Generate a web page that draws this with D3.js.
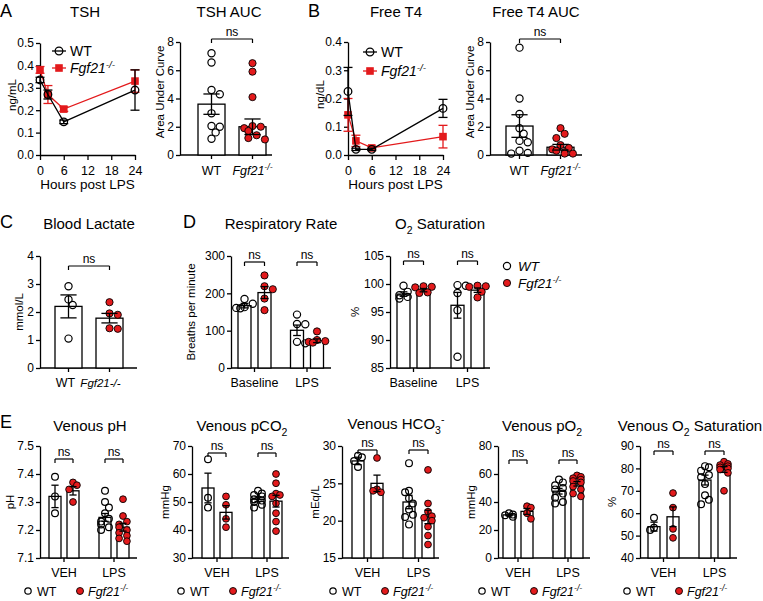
<!DOCTYPE html>
<html>
<head>
<meta charset="utf-8">
<script src="https://cdn.jsdelivr.net/npm/d3@7/dist/d3.min.js"></script>
<style>
html,body{margin:0;padding:0;background:#fff;}
svg{display:block;}
</style>
</head>
<body>
<svg id="fig" width="763" height="601" xmlns="http://www.w3.org/2000/svg"></svg>
<script>
// ================= DATA =================
const hours = [0, 2, 6, 24];
const hourTicks = [0, 6, 12, 18, 24];
const genotypes = ["WT", "Fgf21-/-"];

// A: TSH time course (ng/mL), mean and SEM
const tshWT = [0.335, 0.27, 0.148, 0.29];
const tshWTsem = [0.012, 0.02, 0.008, 0.09];
const tshKO = [0.38, 0.27, 0.205, 0.33];
const tshKOsem = [0.015, 0.04, 0.01, 0.05];
const tshTicks = [0, 0.1, 0.2, 0.3, 0.4, 0.5];

// A: TSH AUC
const aucTicks = [0, 2, 4, 6, 8];
const tshAucWT = [[7.2, 6.55, 4.6, 4.3, 2.95, 2.05, 2.0, 1.6, 1.15]];
const tshAucKO = [[6.5, 5.9, 4.1, 2.05, 2.0, 1.9, 1.7, 1.4, 1.2, 1.1]];
const tshAucMean = [3.6, 2.0];
const tshAucSem = [0.72, 0.55];

// B: Free T4 time course (ng/dL)
const t4WT = [0.225, 0.02, 0.02, 0.165];
const t4WTsem = [0.085, 0.004, 0.004, 0.032];
const t4KO = [0.142, 0.05, 0.025, 0.065];
const t4KOsem = [0.058, 0.02, 0.006, 0.04];
const t4Ticks = [0, 0.1, 0.2, 0.3, 0.4];

// B: Free T4 AUC
const t4AucWT = [[7.6, 4.0, 2.9, 1.9, 1.5, 1.0, 0.9, 0.3, 0.15, 0.1]];
const t4AucKO = [[1.9, 1.5, 1.2, 0.7, 0.5, 0.4, 0.3, 0.2, 0.1, 0.1]];
const t4AucMean = [2.05, 0.55];
const t4AucSem = [0.8, 0.2];

// C: Blood lactate (mmol/L)
const lacTicks = [0, 1, 2, 3, 4];
const lacWT = [[2.92, 2.45, 2.25, 1.05]];
const lacKO = [[2.35, 1.95, 1.9, 1.42, 1.4]];
const lacMean = [2.2, 1.78];
const lacSem = [0.41, 0.17];

// D: conditions
const dConds = ["Baseline", "LPS"];
// Respiratory rate (breaths per minute)
const respTicks = [0, 100, 200, 300];
const respWT = [[185, 172, 163, 161, 160], [143, 118, 117, 70, 66]];
const respKO = [[248, 219, 211, 186, 155], [98, 75, 72, 70, 68]];
const respMeanWT = [167, 101];
const respSemWT = [6, 14];
const respMeanKO = [202, 73];
const respSemKO = [16, 5];
// O2 saturation (%)
const o2Ticks = [85, 90, 95, 100, 105];
const o2WT = [[99.7, 98.6, 98.0, 97.7, 97.4], [99.8, 99.7, 98.4, 95.3, 87.0]];
const o2KO = [[99.6, 99.5, 99.4, 98.5, 98.4], [99.7, 99.6, 99.5, 98.6, 97.6]];
const o2MeanWT = [98.2, 96.2];
const o2SemWT = [0.4, 2.3];
const o2MeanKO = [98.9, 98.9];
const o2SemKO = [0.3, 0.4];

// E: conditions
const eConds = ["VEH", "LPS"];
// Venous pH
const phTicks = [7.1, 7.2, 7.3, 7.4, 7.5];
const phWT = [[7.39, 7.32, 7.26], [7.34, 7.30, 7.28, 7.26, 7.24, 7.23, 7.22, 7.21, 7.20]];
const phKO = [[7.37, 7.36, 7.345, 7.30], [7.31, 7.25, 7.23, 7.22, 7.21, 7.20, 7.19, 7.18, 7.17, 7.16]];
const phMeanWT = [7.32, 7.245];
const phSemWT = [0.04, 0.014];
const phMeanKO = [7.34, 7.21];
const phSemKO = [0.015, 0.014];
// Venous pCO2 (mmHg)
const pco2Ticks = [30, 40, 50, 60, 70];
const pco2WT = [[65.3, 51.5, 48], [54, 53, 52.5, 52, 51, 50.5, 50, 49, 48]];
const pco2KO = [[52, 49, 44, 41], [60, 56.7, 53, 52.5, 52, 49.5, 46, 43, 39.6]];
const pco2MeanWT = [55, 51];
const pco2SemWT = [5.3, 0.8];
const pco2MeanKO = [46.3, 50.3];
const pco2SemKO = [2.4, 2.1];
// Venous HCO3- (mEq/L)
const hco3Ticks = [15, 20, 25, 30];
const hco3WT = [[28.7, 28.5, 28.0, 27.2], [27.7, 24.0, 23.8, 23.0, 22.3, 21.5, 20.8, 20.5, 19.5]];
const hco3KO = [[28.4, 24.2, 24.0, 23.8], [26.8, 22.3, 21.2, 20.6, 20.4, 20.0, 19.2, 18.0, 16.8]];
const hco3MeanWT = [28.0, 22.5];
const hco3SemWT = [0.5, 0.9];
const hco3MeanKO = [25.0, 20.5];
const hco3SemKO = [1.1, 0.9];
// Venous pO2 (mmHg)
const po2Ticks = [0, 20, 40, 60, 80];
const po2WT = [[32, 31, 30.5, 29.5], [56, 54, 52, 50, 49, 46, 43, 40, 39]];
const po2KO = [[37, 36, 32, 28], [59, 58, 57, 56, 55, 54, 51, 49, 46, 44]];
const po2MeanWT = [30.8, 47.7];
const po2SemWT = [0.6, 2.0];
const po2MeanKO = [33.3, 53];
const po2SemKO = [2.1, 1.6];
// Venous O2 saturation (%)
const so2Ticks = [40, 50, 60, 70, 80, 90];
const so2WT = [[58, 53.5, 52.5], [81, 80.5, 79, 77, 76, 73, 68, 66, 64]];
const so2KO = [[69, 62.5, 53, 49], [83, 82, 81.5, 81, 80.5, 80, 79.5, 78, 70]];
const so2MeanWT = [54, 74.8];
const so2SemWT = [2.0, 2.2];
const so2MeanKO = [58.4, 79.5];
const so2SemKO = [4.4, 1.3];

// ================= DRAWING =================
const RED = "#e31a1c";
const FONT = "'Liberation Sans', Arial, Helvetica, sans-serif";
const SW = 1.3;
const TICK_FS = 12;
const TITLE_FS = 15;
const YLAB_FS = 11.5;
const svg = d3.select("#fig");

const KO_SUP = [{t: "Fgf21", i: true}, {t: "-/-", s: "sup", i: true}];

function rich(parent, x, y, parts, opt = {}) {
  const size = opt.size || 12;
  const t = parent.append("text")
    .attr("font-family", FONT).attr("font-size", size).attr("fill", "#000")
    .attr("text-anchor", opt.anchor || "middle");
  if (opt.rotate) t.attr("transform", `translate(${x},${y}) rotate(${opt.rotate})`);
  else t.attr("x", x).attr("y", y);
  let shift = 0;
  parts.forEach(p => {
    const target = p.s === "sub" ? size * 0.3 : p.s === "sup" ? -size * 0.38 : 0;
    const ts = t.append("tspan").text(p.t);
    if (target - shift !== 0) ts.attr("dy", target - shift);
    shift = target;
    if (p.s) ts.attr("font-size", size * 0.7);
    if (p.i) ts.attr("font-style", "italic");
  });
  return t;
}

function styleAxis(g, fs) {
  g.select(".domain").attr("stroke", "#000").attr("stroke-width", SW);
  g.selectAll(".tick line").attr("stroke", "#000").attr("stroke-width", SW);
  g.selectAll(".tick text").attr("font-family", FONT).attr("font-size", fs).attr("fill", "#000");
}

function letter(x, y, s) {
  svg.append("text").attr("x", x).attr("y", y).attr("font-family", FONT)
    .attr("font-size", 18).attr("fill", "#000").text(s);
}

function vline(g, x, y1, y2, c, w) {
  g.append("line").attr("x1", x).attr("x2", x).attr("y1", y1).attr("y2", y2)
    .attr("stroke", c).attr("stroke-width", w || SW);
}
function hline(g, x1, x2, y, c, w) {
  g.append("line").attr("x1", x1).attr("x2", x2).attr("y1", y).attr("y2", y)
    .attr("stroke", c).attr("stroke-width", w || SW);
}

function marker(g, x, y, shape) {
  if (shape === "ci") {
    g.append("circle").attr("cx", x).attr("cy", y).attr("r", 3.8)
      .attr("fill", "none").attr("stroke", "#000").attr("stroke-width", SW);
  } else {
    g.append("rect").attr("x", x - 3.8).attr("y", y - 3.8).attr("width", 7.6).attr("height", 7.6)
      .attr("fill", RED);
  }
}

function lineChart(o) {
  const g = svg.append("g");
  const x = d3.scaleLinear().domain([0, 24]).range([o.x0, o.x1]);
  const y = d3.scaleLinear().domain(o.domain).range([o.yBottom, o.yTop]);
  g.append("g").attr("transform", `translate(0,${o.yBottom})`)
    .call(d3.axisBottom(x).tickValues(hourTicks).tickSize(5).tickSizeOuter(0).tickPadding(6))
    .call(a => styleAxis(a, 12.5));
  g.append("g").attr("transform", `translate(${o.x0},0)`)
    .call(d3.axisLeft(y).tickValues(o.ticks).tickFormat(d3.format(".1f")).tickSize(4).tickSizeOuter(0).tickPadding(2))
    .call(a => styleAxis(a, TICK_FS));
  const series = [
    {m: o.ko, e: o.koSem, c: RED, shape: "sq"},
    {m: o.wt, e: o.wtSem, c: "#000", shape: "ci"}
  ];
  const line = d3.line().x((d, i) => x(hours[i])).y(d => y(d));
  series.forEach(s => {
    g.append("path").datum(s.m).attr("d", line).attr("fill", "none")
      .attr("stroke", s.c).attr("stroke-width", SW);
    s.m.forEach((v, i) => {
      const cx = x(hours[i]);
      const lo = y(v - s.e[i]), hi = y(v + s.e[i]);
      vline(g, cx, lo, hi, s.c);
      hline(g, cx - 4.5, cx + 4.5, lo, s.c);
      hline(g, cx - 4.5, cx + 4.5, hi, s.c);
    });
    s.m.forEach((v, i) => marker(g, x(hours[i]), y(v), s.shape));
  });
  // legend
  const lg = svg.append("g");
  hline(lg, o.legX - 7, o.legX + 7, o.legY1, "#000");
  marker(lg, o.legX, o.legY1, "ci");
  rich(lg, o.legX + 11, o.legY1 + 5, [{t: "WT"}], {anchor: "start", size: 14});
  hline(lg, o.legX - 7, o.legX + 7, o.legY2, RED);
  marker(lg, o.legX, o.legY2, "sq");
  rich(lg, o.legX + 11, o.legY2 + 5, KO_SUP, {anchor: "start", size: 14});
  // labels
  rich(svg, o.titleX, o.titleY, [{t: o.title}], {size: TITLE_FS});
  rich(svg, (o.x0 + o.x1) / 2, o.yBottom + 34, [{t: "Hours post LPS"}], {size: 13.5});
  rich(svg, o.ylabX, (o.yTop + o.yBottom) / 2 - 4, [{t: o.ylabel}], {size: YLAB_FS, rotate: -90});
}

function swarm(vals, y, cx, r, maxHalf) {
  const pts = vals.map(v => ({v, y: y(v)})).sort((a, b) => a.y - b.y);
  const placed = [];
  const step = r * 1.15;
  pts.forEach(p => {
    let bx = null;
    for (let k = 0; k < 20; k++) {
      const off = k === 0 ? 0 : (k % 2 ? 1 : -1) * Math.ceil(k / 2) * step;
      if (Math.abs(off) > maxHalf) continue;
      const xx = cx + off;
      if (placed.every(q => Math.hypot(q.x - xx, q.y - p.y) >= 2 * r * 0.92)) { bx = xx; break; }
    }
    if (bx === null) bx = cx + ((placed.length % 2) ? 1 : -1) * Math.min(maxHalf, step);
    placed.push({x: bx, y: p.y});
  });
  return placed;
}

function barChart(o) {
  const g = svg.append("g");
  const y = d3.scaleLinear().domain(o.domain).range([o.yBottom, o.yTop]);
  const n = o.conds.length;
  const outer = d3.scaleBand().domain(o.conds)
    .range([o.firstLeft, o.firstLeft + (n - 1) * (o.condStep || 0) + o.pairWidth])
    .paddingInner(n > 1 ? 1 - o.pairWidth / o.condStep : 0).paddingOuter(0);
  const inner = d3.scaleBand().domain(genotypes).range([0, o.pairWidth])
    .paddingInner(2 - o.pairWidth / (o.pairWidth - o.barWidth)).paddingOuter(0);
  const bw = inner.bandwidth();
  g.append("g").attr("transform", `translate(${o.axisX},0)`)
    .call(d3.axisLeft(y).tickValues(o.ticks).tickFormat(o.fmt || d3.format("d")).tickSize(4).tickSizeOuter(0).tickPadding(2))
    .call(a => styleAxis(a, TICK_FS));
  hline(g, o.axisX, o.xEnd, o.yBottom, "#000");
  const centers = (c, gt) => outer(c) + inner(gt) + bw / 2;
  const tickXs = n > 1 ? o.conds.map(c => outer(c) + outer.bandwidth() / 2)
                       : genotypes.map(gt => centers(o.conds[0], gt));
  tickXs.forEach(tx => vline(g, tx, o.yBottom, o.yBottom + 4, "#000"));
  const groups = [];
  o.conds.forEach((c, ci) => {
    genotypes.forEach((gt, gi) => {
      const x0 = outer(c) + inner(gt);
      const mean = (gi === 0 ? o.meanWT : o.meanKO)[ci];
      const sem = (gi === 0 ? o.semWT : o.semKO)[ci];
      const vals = (gi === 0 ? o.wt : o.ko)[ci];
      groups.push({x0, cx: x0 + bw / 2, mean, sem, vals, gi});
    });
  });
  groups.forEach(d => {
    g.append("rect").attr("x", d.x0).attr("y", y(d.mean)).attr("width", bw)
      .attr("height", o.yBottom - y(d.mean)).attr("fill", "#fff")
      .attr("stroke", "#000").attr("stroke-width", SW);
  });
  groups.forEach(d => {
    const pts = swarm(d.vals, y, d.cx, o.r, bw / 2 + o.r * 0.5);
    pts.forEach(p => {
      g.append("circle").attr("cx", p.x).attr("cy", p.y).attr("r", o.r)
        .attr("fill", d.gi === 0 ? "none" : RED)
        .attr("stroke", "#000").attr("stroke-width", d.gi === 0 ? 1.2 : 0.9);
    });
  });
  groups.forEach(d => {
    const lo = y(d.mean - d.sem), hi = y(d.mean + d.sem);
    const cw = bw * 0.3;
    vline(g, d.cx, lo, hi, "#000");
    hline(g, d.cx - cw, d.cx + cw, lo, "#000");
    hline(g, d.cx - cw, d.cx + cw, hi, "#000");
  });
  // brackets
  o.conds.forEach(c => {
    const a = centers(c, genotypes[0]), b = centers(c, genotypes[1]);
    const by = o.bracketY;
    hline(g, a, b, by, "#000", 1.2);
    vline(g, a, by, by + 4, "#000", 1.2);
    vline(g, b, by, by + 4, "#000", 1.2);
    rich(g, (a + b) / 2, by - 3.5, [{t: "ns"}], {size: 12});
  });
  // x labels
  if (n > 1) {
    o.conds.forEach((c, ci) => rich(g, tickXs[ci], o.labelY, [{t: c}], {size: 12.5}));
  } else {
    genotypes.forEach((gt, gi) => rich(g, tickXs[gi] + (o.labelDx ? o.labelDx[gi] : 0), o.labelY,
      o.xLabels[gi], {size: o.labelFs ? o.labelFs[gi] : 12.5}));
  }
  rich(svg, o.titleX, o.titleY, o.title, {size: TITLE_FS});
  rich(svg, o.ylabX, o.ylabY || (o.yTop + o.yBottom) / 2, [{t: o.ylabel}], {size: YLAB_FS, rotate: -90});
}

function eLegend(x, y) {
  const g = svg.append("g");
  g.append("circle").attr("cx", x).attr("cy", y).attr("r", 3.2)
    .attr("fill", "none").attr("stroke", "#000").attr("stroke-width", 1.2);
  rich(g, x + 9, y + 4.5, [{t: "WT"}], {anchor: "start", size: 12.5});
  g.append("circle").attr("cx", x + 52).attr("cy", y).attr("r", 3.5)
    .attr("fill", RED).attr("stroke", "#000").attr("stroke-width", 0.9);
  rich(g, x + 60, y + 4.5, KO_SUP, {anchor: "start", size: 12.5});
}

// ---- Panel A ----
letter(0, 17, "A");
lineChart({x0: 40, x1: 135, yTop: 43, yBottom: 155, domain: [0, 0.5], ticks: tshTicks,
  wt: tshWT, wtSem: tshWTsem, ko: tshKO, koSem: tshKOsem,
  legX: 59, legY1: 51, legY2: 68, title: "TSH", titleX: 85, titleY: 17,
  ylabel: "ng/mL", ylabX: 16});
barChart({axisX: 180, yTop: 42, yBottom: 155, domain: [0, 8], ticks: aucTicks,
  conds: ["all"], firstLeft: 198, pairWidth: 68, barWidth: 27, xEnd: 272, r: 3.6,
  wt: tshAucWT, ko: tshAucKO, meanWT: [tshAucMean[0]], semWT: [tshAucSem[0]],
  meanKO: [tshAucMean[1]], semKO: [tshAucSem[1]], bracketY: 39, labelY: 175,
  xLabels: [[{t: "WT"}], KO_SUP], labelDx: [0, 0],
  title: [{t: "TSH AUC"}], titleX: 229, titleY: 17, ylabel: "Area Under Curve", ylabX: 164, ylabY: 92});

// ---- Panel B ----
letter(308, 17, "B");
lineChart({x0: 348, x1: 443, yTop: 42, yBottom: 155, domain: [0, 0.4], ticks: t4Ticks,
  wt: t4WT, wtSem: t4WTsem, ko: t4KO, koSem: t4KOsem,
  legX: 370, legY1: 52, legY2: 71, title: "Free T4", titleX: 396, titleY: 17,
  ylabel: "ng/dL", ylabX: 324});
barChart({axisX: 490, yTop: 42, yBottom: 155, domain: [0, 8], ticks: aucTicks,
  conds: ["all"], firstLeft: 506, pairWidth: 68, barWidth: 27, xEnd: 582, r: 3.6,
  wt: t4AucWT, ko: t4AucKO, meanWT: [t4AucMean[0]], semWT: [t4AucSem[0]],
  meanKO: [t4AucMean[1]], semKO: [t4AucSem[1]], bracketY: 39, labelY: 175,
  xLabels: [[{t: "WT"}], KO_SUP], labelDx: [0, 0],
  title: [{t: "Free T4 AUC"}], titleX: 536, titleY: 17, ylabel: "Area Under Curve", ylabX: 474, ylabY: 92});

// ---- Panel C ----
letter(0, 228, "C");
barChart({axisX: 40, yTop: 256, yBottom: 368, domain: [0, 4], ticks: lacTicks,
  conds: ["all"], firstLeft: 55, pairWidth: 68, barWidth: 27, xEnd: 137, r: 3.6,
  wt: lacWT, ko: lacKO, meanWT: [lacMean[0]], semWT: [lacSem[0]],
  meanKO: [lacMean[1]], semKO: [lacSem[1]], bracketY: 266, labelY: 387,
  xLabels: [[{t: "WT"}], [{t: "Fgf21-/-", i: true}]], labelDx: [-3, -9], labelFs: [12.5, 11.5],
  title: [{t: "Blood Lactate"}], titleX: 89, titleY: 229, ylabel: "mmol/L", ylabX: 23});

// ---- Panel D ----
letter(183, 228, "D");
barChart({axisX: 231, yTop: 256, yBottom: 368, domain: [0, 300], ticks: respTicks,
  conds: dConds, firstLeft: 238, condStep: 52.5, pairWidth: 33, barWidth: 13, xEnd: 331, r: 3.6,
  wt: respWT, ko: respKO, meanWT: respMeanWT, semWT: respSemWT,
  meanKO: respMeanKO, semKO: respSemKO, bracketY: 262, labelY: 387,
  title: [{t: "Respiratory Rate"}], titleX: 281, titleY: 229, ylabel: "Breaths per minute", ylabX: 195});
barChart({axisX: 390, yTop: 256, yBottom: 368, domain: [85, 105], ticks: o2Ticks,
  conds: dConds, firstLeft: 397, condStep: 54, pairWidth: 33, barWidth: 13, xEnd: 490, r: 3.6,
  wt: o2WT, ko: o2KO, meanWT: o2MeanWT, semWT: o2SemWT,
  meanKO: o2MeanKO, semKO: o2SemKO, bracketY: 261, labelY: 387,
  title: [{t: "O"}, {t: "2", s: "sub"}, {t: " Saturation"}], titleX: 440, titleY: 229, ylabel: "%", ylabX: 359});
// D legend
(function () {
  const g = svg.append("g");
  g.append("circle").attr("cx", 507).attr("cy", 266).attr("r", 3.6)
    .attr("fill", "none").attr("stroke", "#000").attr("stroke-width", 1.2);
  rich(g, 518, 271, [{t: "WT", i: true}], {anchor: "start", size: 13.5});
  g.append("circle").attr("cx", 507).attr("cy", 283).attr("r", 3.6)
    .attr("fill", RED).attr("stroke", "#000").attr("stroke-width", 0.9);
  rich(g, 518, 288, KO_SUP, {anchor: "start", size: 13.5});
})();

// ---- Panel E ----
letter(0, 428, "E");
const eCommon = {yTop: 446, yBottom: 558, conds: eConds, barWidth: 12, r: 3.4, labelY: 577, titleY: 431};
barChart(Object.assign({}, eCommon, {axisX: 40, domain: [7.1, 7.5], ticks: phTicks, fmt: d3.format(".1f"),
  firstLeft: 49, condStep: 50, pairWidth: 30, xEnd: 137,
  wt: phWT, ko: phKO, meanWT: phMeanWT, semWT: phSemWT, meanKO: phMeanKO, semKO: phSemKO,
  bracketY: 459, title: [{t: "Venous pH"}], titleX: 90, ylabel: "pH", ylabX: 14}));
barChart(Object.assign({}, eCommon, {axisX: 192, domain: [30, 70], ticks: pco2Ticks,
  firstLeft: 202, condStep: 50, pairWidth: 30, xEnd: 289,
  wt: pco2WT, ko: pco2KO, meanWT: pco2MeanWT, semWT: pco2SemWT, meanKO: pco2MeanKO, semKO: pco2SemKO,
  bracketY: 453, title: [{t: "Venous pCO"}, {t: "2", s: "sub"}], titleX: 242, ylabel: "mmHg", ylabX: 169}));
barChart(Object.assign({}, eCommon, {axisX: 342, domain: [15, 30], ticks: hco3Ticks,
  firstLeft: 352, condStep: 51, pairWidth: 31, xEnd: 439,
  wt: hco3WT, ko: hco3KO, meanWT: hco3MeanWT, semWT: hco3SemWT, meanKO: hco3MeanKO, semKO: hco3SemKO,
  bracketY: 450, title: [{t: "Venous HCO"}, {t: "3", s: "sub"}, {t: "-", s: "sup"}], titleX: 396, titleY: 429,
  ylabel: "mEq/L", ylabX: 319}));
barChart(Object.assign({}, eCommon, {axisX: 498, domain: [0, 80], ticks: po2Ticks,
  firstLeft: 503, condStep: 50, pairWidth: 30, xEnd: 590,
  wt: po2WT, ko: po2KO, meanWT: po2MeanWT, semWT: po2SemWT, meanKO: po2MeanKO, semKO: po2SemKO,
  bracketY: 460, title: [{t: "Venous pO"}, {t: "2", s: "sub"}], titleX: 542, ylabel: "mmHg", ylabX: 475}));
barChart(Object.assign({}, eCommon, {axisX: 640, domain: [40, 90], ticks: so2Ticks,
  firstLeft: 648, condStep: 51, pairWidth: 31, xEnd: 737,
  wt: so2WT, ko: so2KO, meanWT: so2MeanWT, semWT: so2SemWT, meanKO: so2MeanKO, semKO: so2SemKO,
  bracketY: 451, title: [{t: "Venous O"}, {t: "2", s: "sub"}, {t: " Saturation"}], titleX: 690, ylabel: "%", ylabX: 616}));
[28, 181, 333, 482, 627].forEach(x => eLegend(x, 591));
</script>
</body>
</html>
